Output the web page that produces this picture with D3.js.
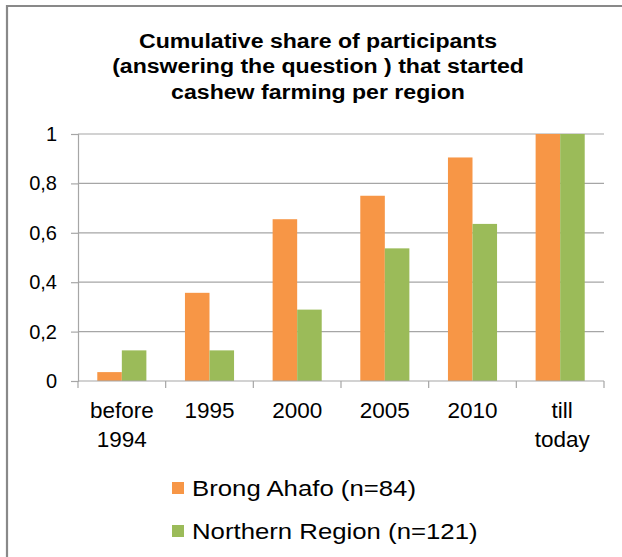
<!DOCTYPE html>
<html>
<head>
<meta charset="utf-8">
<script src="https://cdn.jsdelivr.net/npm/d3@7"></script>
<style>
  html, body { margin: 0; padding: 0; background: #fff; }
  svg { display: block; font-family: "Liberation Sans", Arial, sans-serif; }
</style>
</head>
<body>
<svg id="chart" width="622" height="557"></svg>
<script>
// Periods in which participants started cashew farming
const categories = [["before", "1994"], ["1995"], ["2000"], ["2005"], ["2010"], ["till", "today"]];
const categoryKeys = ["before 1994", "1995", "2000", "2005", "2010", "till today"];

// Cumulative share per region
const brongAhafo = [0.036, 0.357, 0.655, 0.75, 0.905, 1.0];
const northernRegion = [0.124, 0.124, 0.289, 0.537, 0.636, 1.0];

const seriesNames = ["Brong Ahafo (n=84)", "Northern Region (n=121)"];
const seriesColors = ["#F79646", "#9BBB59"];

const yTicks = [0, 0.2, 0.4, 0.6, 0.8, 1];
const titleLines = [
  "Cumulative share of participants",
  "(answering the question ) that started",
  "cashew farming per region"
];

const svg = d3.select("#chart");
const W = 622, H = 557;
const plot = { left: 78, right: 604, top: 134, bottom: 381 };

// Outer frame (left and top edges)
svg.append("path")
  .attr("d", `M7,${H} L7,6 L${W},6`)
  .attr("fill", "none")
  .attr("stroke", "#898989")
  .attr("stroke-width", 2.2);

// Title
const title = svg.append("text")
  .attr("text-anchor", "middle")
  .attr("font-weight", "bold")
  .attr("font-size", 21)
  .attr("fill", "#000")
  .attr("transform", "translate(318,0) scale(1.1,1)");
titleLines.forEach((t, i) => {
  title.append("tspan").attr("x", 0).attr("y", 48 + i * 25.5).text(t);
});

// Scales
const x0 = d3.scaleBand()
  .domain(categoryKeys)
  .range([plot.left, plot.right])
  .paddingInner(0.44)
  .paddingOuter(0.22);
const x1 = d3.scaleBand()
  .domain([0, 1])
  .range([0, x0.bandwidth()]);
const y = d3.scaleLinear().domain([0, 1]).range([plot.bottom, plot.top]);

const step = x0.step();

// Horizontal gridlines
svg.append("g")
  .selectAll("line")
  .data(yTicks.filter(d => d > 0))
  .join("line")
  .attr("x1", plot.left).attr("x2", plot.right)
  .attr("y1", d => y(d)).attr("y2", d => y(d))
  .attr("stroke", "#A6A6A6")
  .attr("stroke-width", 1.2);

// Bars
const groups = svg.append("g")
  .selectAll("g")
  .data(categoryKeys.map((k, i) => ({ key: k, vals: [brongAhafo[i], northernRegion[i]] })))
  .join("g")
  .attr("transform", d => `translate(${x0(d.key)},0)`);
groups.selectAll("rect")
  .data(d => d.vals.map((v, s) => ({ v, s })))
  .join("rect")
  .attr("x", d => x1(d.s))
  .attr("width", x1.bandwidth())
  .attr("y", d => y(d.v))
  .attr("height", d => y(0) - y(d.v))
  .attr("fill", d => seriesColors[d.s]);

// Y axis
const yAxis = svg.append("g")
  .attr("transform", `translate(${plot.left},0)`)
  .call(d3.axisLeft(y).tickValues(yTicks).tickSize(7).tickPadding(14)
    .tickFormat(d => d3.format("~g")(d).replace(".", ",")));
yAxis.select(".domain").attr("stroke", "#A6A6A6").attr("stroke-width", 1.2);
yAxis.selectAll(".tick line").attr("stroke", "#A6A6A6").attr("stroke-width", 1.2);
yAxis.selectAll(".tick text")
  .attr("font-size", 20)
  .attr("font-family", "Liberation Sans, Arial, sans-serif")
  .attr("fill", "#000");

// X axis line with ticks at category boundaries
const bounds = d3.range(categoryKeys.length + 1).map(i => plot.left + i * step);
const xAxisG = svg.append("g");
xAxisG.append("line")
  .attr("x1", plot.left).attr("x2", plot.right)
  .attr("y1", plot.bottom).attr("y2", plot.bottom)
  .attr("stroke", "#A6A6A6").attr("stroke-width", 1.2);
xAxisG.selectAll("line.tk")
  .data(bounds)
  .join("line")
  .attr("class", "tk")
  .attr("x1", d => d).attr("x2", d => d)
  .attr("y1", plot.bottom).attr("y2", plot.bottom + 7)
  .attr("stroke", "#A6A6A6").attr("stroke-width", 1.2);

// Category labels
const xl = svg.append("g")
  .selectAll("text")
  .data(categories.map((lines, i) => ({ lines, key: categoryKeys[i] })))
  .join("text")
  .attr("text-anchor", "middle")
  .attr("font-size", 22.5)
  .attr("fill", "#000");
xl.each(function (d) {
  const t = d3.select(this);
  const cx = x0(d.key) + x0.bandwidth() / 2 + (d.key === "till today" ? 2 : 0);
  d.lines.forEach((ln, j) => {
    t.append("tspan").attr("x", cx).attr("y", 418 + j * 29).text(ln);
  });
});

// Legend
const legend = svg.append("g").attr("transform", "translate(172,482)");
seriesNames.forEach((name, i) => {
  const row = legend.append("g").attr("transform", `translate(0,${i * 43})`);
  row.append("rect").attr("width", 12).attr("height", 12).attr("fill", seriesColors[i]);
  row.append("text")
    .attr("transform", "translate(20,14) scale(1.12,1)")
    .attr("font-size", 23)
    .attr("fill", "#000")
    .text(name);
});
</script>
</body>
</html>
